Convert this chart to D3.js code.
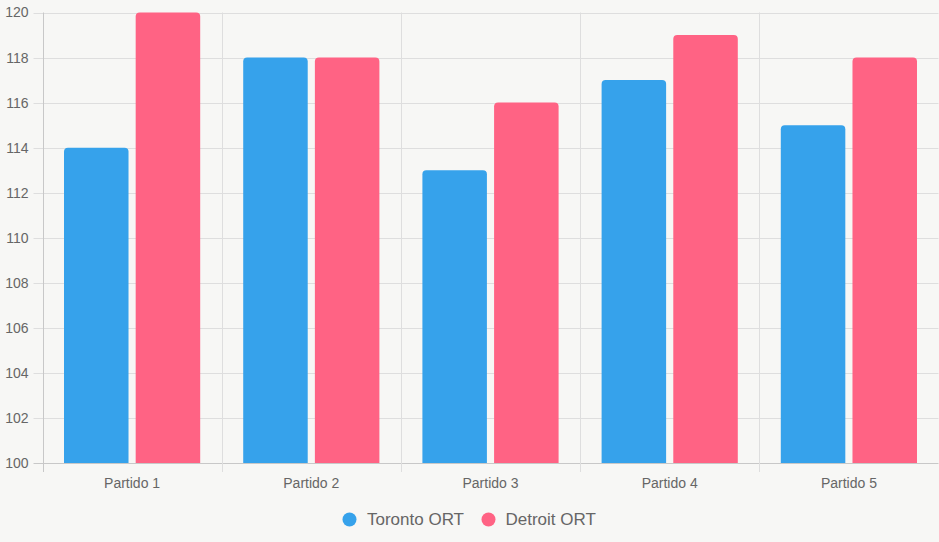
<!DOCTYPE html>
<html>
<head>
<meta charset="utf-8">
<script src="https://cdn.jsdelivr.net/npm/d3@7"></script>
<style>
  html, body { margin: 0; padding: 0; background: #f7f7f5; }
  svg { display: block; font-family: "Liberation Sans", Arial, sans-serif; }
  .tick text { fill: #666; }
</style>
</head>
<body>
<div id="chart"></div>
<script>
const categories = ['Partido 1', 'Partido 2', 'Partido 3', 'Partido 4', 'Partido 5'];
const seriesNames = ['Toronto ORT', 'Detroit ORT'];
const toronto = [114, 118, 113, 117, 115];
const detroit = [120, 118, 116, 119, 118];
const colors = ['#36A2EB', '#FF6384'];
const yTicks = [100, 102, 104, 106, 108, 110, 112, 114, 116, 118, 120];

const WIDTH = 939, HEIGHT = 542;
const LEFT = 42.5, RIGHT = 938.5, TOP = 12.5, BOTTOM = 463;

const svg = d3.select('#chart').append('svg')
	.attr('width', WIDTH)
	.attr('height', HEIGHT);

const xScale = d3.scaleBand()
	.domain(categories)
	.range([LEFT, RIGHT])
	.padding(0);

const cw = xScale.bandwidth();
const xInner = d3.scaleBand()
	.domain(seriesNames)
	.range([0.1 * cw, 0.9 * cw])
	.paddingInner(0.1)
	.paddingOuter(0.05);

const yScale = d3.scaleLinear()
	.domain([100, 120])
	.range([BOTTOM, TOP]);

// horizontal grid
svg.append('g')
	.selectAll('line')
	.data(yTicks)
	.enter()
	.append('line')
	.attr('x1', LEFT - 9)
	.attr('x2', RIGHT)
	.attr('y1', (d) => Math.round(yScale(d)) + 0.5)
	.attr('y2', (d) => Math.round(yScale(d)) + 0.5)
	.attr('stroke', (d) => d === 100 ? '#c8c8c8' : '#dedede')
	.attr('stroke-width', 1);

// vertical grid
const vLines = categories.map((c) => xScale(c)).concat([RIGHT]);
svg.append('g')
	.selectAll('line')
	.data(vLines)
	.enter()
	.append('line')
	.attr('x1', (d) => Math.round(d) + 0.5)
	.attr('x2', (d) => Math.round(d) + 0.5)
	.attr('y1', TOP)
	.attr('y2', BOTTOM + 9)
	.attr('stroke', (d, i) => i === 0 ? '#c8c8c8' : '#dedede')
	.attr('stroke-width', 1);

// y labels
svg.append('g')
	.attr('class', 'y axis')
	.attr('transform', 'translate(' + LEFT + ',0)')
	.call(d3.axisLeft(yScale).tickValues(yTicks).tickSize(0).tickPadding(14))
	.call((g) => g.select('.domain').remove())
	.selectAll('text')
	.attr('font-size', 14)
	.attr('font-family', '"Liberation Sans", Arial, sans-serif');

// x labels
svg.append('g')
	.attr('class', 'x axis')
	.attr('transform', 'translate(0,' + BOTTOM + ')')
	.call(d3.axisBottom(xScale).tickSize(0).tickPadding(15))
	.call((g) => g.select('.domain').remove())
	.selectAll('text')
	.attr('font-size', 14)
	.attr('font-family', '"Liberation Sans", Arial, sans-serif');

// bars with rounded tops
const barPath = (x, y, w, h, r) => {
	return 'M' + x + ',' + (y + h)
		+ 'V' + (y + r)
		+ 'Q' + x + ',' + y + ' ' + (x + r) + ',' + y
		+ 'H' + (x + w - r)
		+ 'Q' + (x + w) + ',' + y + ' ' + (x + w) + ',' + (y + r)
		+ 'V' + (y + h) + 'Z';
};

const rows = categories.map((c, i) => [
	{ cat: c, series: seriesNames[0], value: toronto[i], color: colors[0] },
	{ cat: c, series: seriesNames[1], value: detroit[i], color: colors[1] }
]);

const group = svg.append('g')
	.selectAll('.bar-group')
	.data(rows)
	.enter()
	.append('g')
	.attr('class', 'bar-group')
	.attr('transform', (d) => 'translate(' + xScale(d[0].cat) + ',0)');

group.selectAll('.bar')
	.data((d) => d)
	.enter()
	.append('path')
	.attr('class', 'bar')
	.attr('fill', (d) => d.color)
	.attr('d', (d) => barPath(
		xInner(d.series),
		yScale(d.value),
		xInner.bandwidth(),
		BOTTOM - yScale(d.value),
		4
	));

// legend
const legendData = [
	{ name: seriesNames[0], color: colors[0], cx: 349.5, tx: 367 },
	{ name: seriesNames[1], color: colors[1], cx: 488.5, tx: 505.5 }
];
const legend = svg.append('g').attr('class', 'legend');
legend.selectAll('circle')
	.data(legendData)
	.enter()
	.append('circle')
	.attr('cx', (d) => d.cx)
	.attr('cy', 519.5)
	.attr('r', 7)
	.attr('fill', (d) => d.color);
legend.selectAll('text')
	.data(legendData)
	.enter()
	.append('text')
	.attr('x', (d) => d.tx)
	.attr('y', 519.5)
	.attr('dy', '0.35em')
	.attr('font-size', 17)
	.attr('fill', '#666')
	.text((d) => d.name);
</script>
</body>
</html>
